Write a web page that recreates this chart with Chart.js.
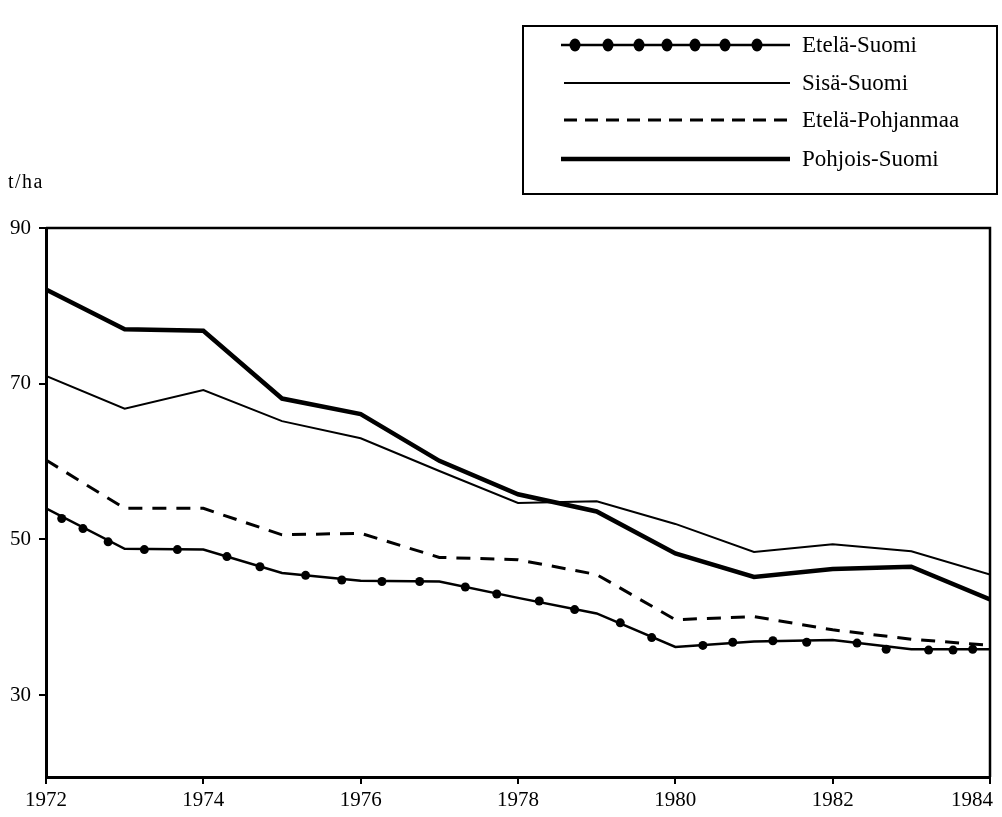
<!DOCTYPE html>
<html lang="fi">
<head>
    <meta charset="UTF-8">
    <title>t/ha 1972-1984</title>
    <script src="https://cdn.jsdelivr.net/npm/chart.js"></script>
    <style>
        body {
            margin: 0;
            background-color: #ffffff;
            font-family: "Liberation Serif", serif;
            color: #000000;
        }
        .wrap {
            position: relative;
            width: 1002px;
            height: 817px;
        }
        .unit {
            position: absolute;
            left: 8px;
            top: 170px;
            font-size: 20px;
            letter-spacing: 1.5px;
        }
        .legend {
            position: absolute;
            left: 522px;
            top: 25px;
            width: 472px;
            height: 166px;
            border: 2px solid #000;
        }
        .legend svg {
            position: absolute;
            left: 0;
            top: 0;
        }
        .legend span {
            position: absolute;
            left: 278px;
            font-size: 23px;
            line-height: 23px;
        }
    </style>
</head>
<body>
    <div class="wrap">
        <canvas id="chartCanvas" width="1002" height="817"></canvas>
        <div class="unit">t/ha</div>
        <div class="legend">
            <svg width="472" height="166">
                <line x1="37" y1="18" x2="266" y2="18" stroke="#000" stroke-width="2.5"/>
                <ellipse cx="51" cy="18" rx="5.5" ry="6.5"/>
                <ellipse cx="84" cy="18" rx="5.5" ry="6.5"/>
                <ellipse cx="115" cy="18" rx="5.5" ry="6.5"/>
                <ellipse cx="143" cy="18" rx="5.5" ry="6.5"/>
                <ellipse cx="171" cy="18" rx="5.5" ry="6.5"/>
                <ellipse cx="201" cy="18" rx="5.5" ry="6.5"/>
                <ellipse cx="233" cy="18" rx="5.5" ry="6.5"/>
                <line x1="40" y1="56" x2="266" y2="56" stroke="#000" stroke-width="2"/>
                <line x1="40" y1="93" x2="266" y2="93" stroke="#000" stroke-width="3" stroke-dasharray="13 8"/>
                <line x1="37" y1="132" x2="266" y2="132" stroke="#000" stroke-width="4.5"/>
            </svg>
            <span style="top:6px">Etelä-Suomi</span>
            <span style="top:44px">Sisä-Suomi</span>
            <span style="top:81px">Etelä-Pohjanmaa</span>
            <span style="top:120px">Pohjois-Suomi</span>
        </div>
    </div>

    <script>
        // vuodet ja sarjat (luettu kuvasta)
        const years = [1972, 1973, 1974, 1975, 1976, 1977, 1978, 1979, 1980, 1981, 1982, 1983, 1984];
        const etelaSuomi = [54.0, 48.8, 48.7, 45.7, 44.7, 44.6, 42.5, 40.5, 36.2, 36.9, 37.1, 35.9, 35.9];
        const sisaSuomi = [71.0, 66.8, 69.2, 65.2, 63.0, 58.8, 54.7, 54.9, 52.0, 48.4, 49.4, 48.5, 45.5];
        const etelaPohjanmaa = [60.2, 54.0, 54.0, 50.6, 50.8, 47.7, 47.4, 45.5, 39.7, 40.1, 38.4, 37.2, 36.4];
        const pohjoisSuomi = [82.1, 77.0, 76.8, 68.1, 66.1, 60.1, 55.8, 53.6, 48.2, 45.2, 46.2, 46.5, 42.3];

        // Etelä-Suomi -viivan pallot
        const markerYears = [1972.2, 1972.47, 1972.79, 1973.25, 1973.67, 1974.3, 1974.72, 1975.3, 1975.76,
            1976.27, 1976.75, 1977.33, 1977.73, 1978.27, 1978.72, 1979.3, 1979.7, 1980.35, 1980.73,
            1981.24, 1981.67, 1982.31, 1982.68, 1983.22, 1983.53, 1983.78];
        const markerValues = [52.7, 51.4, 49.7, 48.7, 48.7, 47.8, 46.5, 45.4, 44.8,
            44.6, 44.6, 43.9, 43.0, 42.1, 41.0, 39.3, 37.4, 36.4, 36.8,
            37.0, 36.8, 36.7, 35.9, 35.8, 35.8, 35.9];

        const yTicks = [30, 50, 70, 90];
        const xTickLabels = ['1972', '1974', '1976', '1978', '1980', '1982', '1984'];

        const toPoints = (xs, ys) => xs.map((x, i) => ({ x: x, y: ys[i] }));

        // kehys ylä- ja oikealle reunalle
        const framePlugin = {
            id: 'frame',
            afterDatasetsDraw(chart) {
                const { ctx, chartArea } = chart;
                ctx.save();
                ctx.strokeStyle = '#000';
                ctx.lineWidth = 2.5;
                ctx.beginPath();
                ctx.moveTo(chartArea.left, chartArea.top);
                ctx.lineTo(chartArea.right, chartArea.top);
                ctx.lineTo(chartArea.right, chartArea.bottom);
                ctx.stroke();
                ctx.restore();
            }
        };

        // x-akselin tekstit, viimeinen ei saa mennä reunan yli
        const xLabelPlugin = {
            id: 'xLabels',
            afterDraw(chart) {
                const { ctx } = chart;
                const scale = chart.scales.x;
                ctx.save();
                ctx.font = '21px "Liberation Serif", serif';
                ctx.fillStyle = '#000';
                ctx.textBaseline = 'middle';
                scale.ticks.forEach((tick, i) => {
                    const label = xTickLabels[i];
                    const px = scale.getPixelForValue(tick.value);
                    const w = ctx.measureText(label).width;
                    let x = px;
                    ctx.textAlign = 'center';
                    if (px + w / 2 > chart.width - 8) {
                        ctx.textAlign = 'right';
                        x = chart.width - 9;
                    }
                    ctx.fillText(label, x, 800);
                });
                ctx.restore();
            }
        };

        new Chart(document.getElementById('chartCanvas'), {
            type: 'line',
            data: {
                datasets: [
                    {
                        label: 'Etelä-Suomi pallot',
                        data: toPoints(markerYears, markerValues),
                        showLine: false,
                        pointRadius: 4.5,
                        pointBackgroundColor: '#000',
                        pointBorderColor: '#000',
                        borderWidth: 0
                    },
                    {
                        label: 'Etelä-Suomi',
                        data: toPoints(years, etelaSuomi),
                        borderColor: '#000',
                        borderWidth: 2.5,
                        pointRadius: 0
                    },
                    {
                        label: 'Sisä-Suomi',
                        data: toPoints(years, sisaSuomi),
                        borderColor: '#000',
                        borderWidth: 2,
                        pointRadius: 0
                    },
                    {
                        label: 'Etelä-Pohjanmaa',
                        data: toPoints(years, etelaPohjanmaa),
                        borderColor: '#000',
                        borderWidth: 3,
                        borderDash: [14, 10],
                        pointRadius: 0
                    },
                    {
                        label: 'Pohjois-Suomi',
                        data: toPoints(years, pohjoisSuomi),
                        borderColor: '#000',
                        borderWidth: 4.5,
                        pointRadius: 0
                    }
                ]
            },
            plugins: [framePlugin, xLabelPlugin],
            options: {
                responsive: false,
                animation: false,
                layout: { padding: { top: 228, right: 12, left: 0, bottom: 0 } },
                plugins: {
                    legend: { display: false },
                    title: { display: false },
                    tooltip: { enabled: false }
                },
                scales: {
                    x: {
                        type: 'linear',
                        min: 1972,
                        max: 1984,
                        ticks: { stepSize: 2, display: false },
                        grid: { drawOnChartArea: false, drawTicks: true, tickLength: 7, color: '#000', lineWidth: 2 },
                        border: { color: '#000', width: 3 },
                        afterFit(scale) {
                            scale.height = 40;
                            scale.paddingLeft = 0;
                            scale.paddingRight = 0;
                        }
                    },
                    y: {
                        min: 19.5,
                        max: 90,
                        afterBuildTicks(scale) {
                            scale.ticks = yTicks.map(v => ({ value: v }));
                        },
                        ticks: {
                            color: '#000',
                            padding: 8,
                            font: { family: '"Liberation Serif", serif', size: 21 }
                        },
                        grid: { drawOnChartArea: false, drawTicks: true, tickLength: 7, color: '#000', lineWidth: 2 },
                        border: { color: '#000', width: 3 },
                        afterFit(scale) {
                            scale.width = 46;
                        }
                    }
                }
            }
        });
    </script>
</body>
</html>
